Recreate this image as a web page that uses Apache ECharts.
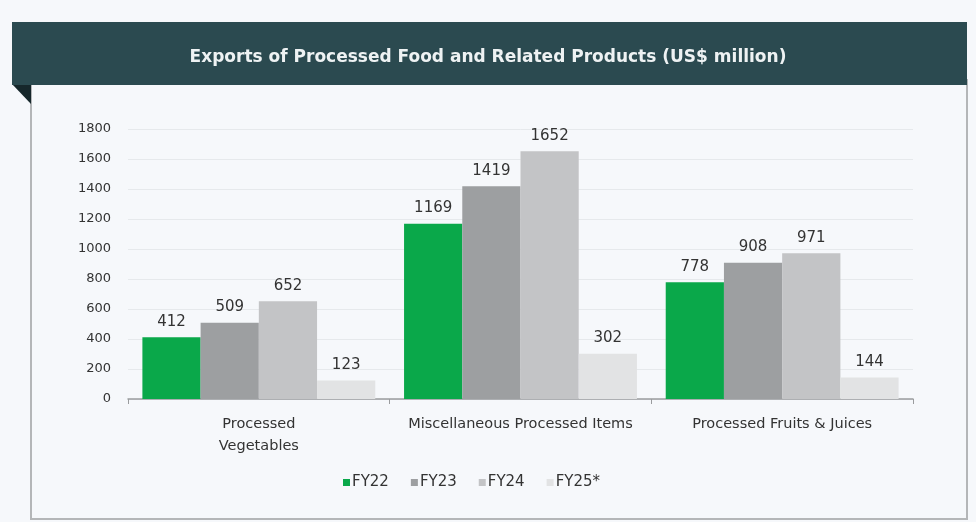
<!DOCTYPE html>
<html>
<head>
<meta charset="utf-8">
<script src="https://cdn.jsdelivr.net/npm/echarts@6/dist/echarts.min.js"></script>
<style>
  html, body { margin: 0; padding: 0; background: #f6f8fb; }
  #main { width: 976px; height: 522px; }
</style>
</head>
<body>
<div id="main"></div>
<script>
var categories = ['Processed\nVegetables', 'Miscellaneous Processed Items', 'Processed Fruits & Juices'];
var seriesNames = ['FY22', 'FY23', 'FY24', 'FY25*'];
var fy22 = [412, 1169, 778];
var fy23 = [509, 1419, 908];
var fy24 = [652, 1652, 971];
var fy25 = [123, 302, 144];
var colors = ['#0aa84a', '#9d9fa1', '#c3c4c6', '#e2e3e4'];

var chart = echarts.init(document.getElementById('main'));
var fontName = 'DejaVu Sans';

function makeSeries(name, data, color) {
  return {
    name: name,
    type: 'bar',
    data: data,
    barGap: 0,
    barCategoryGap: '11%',
    itemStyle: { color: color },
    label: {
      show: true,
      position: 'top',
      distance: 8,
      color: '#333',
      fontFamily: fontName,
      fontSize: 15
    }
  };
}

var option = {
  backgroundColor: '#f6f8fb',
  animation: false,
  color: colors,
  graphic: [
    // card border
    { type: 'rect', shape: { x: 31, y: 80, width: 936, height: 439 },
      style: { fill: '#f6f8fb', stroke: '#b4b6b8', lineWidth: 2 }, z: -10 },
    // fold
    { type: 'polygon', shape: { points: [[12, 84], [31, 84], [31, 104]] },
      style: { fill: '#16272b' }, z: -5 },
    // header band
    { type: 'rect', shape: { x: 12, y: 22, width: 955, height: 63 },
      style: { fill: '#2b4a50' }, z: -5 }
  ],
  title: {
    text: 'Exports of Processed Food and Related Products (US$ million)',
    left: 'center',
    top: 44,
    textStyle: {
      color: '#eef2f3',
      fontFamily: fontName,
      fontSize: 17,
      fontWeight: 'bold'
    }
  },
  legend: {
    data: seriesNames,
    bottom: 27,
    left: 338,
    itemWidth: 7,
    itemHeight: 7,
    itemGap: 22,
    icon: 'rect',
    textStyle: { color: '#333', fontFamily: fontName, fontSize: 15, padding: [0, 0, 0, -3] }
  },
  grid: { left: 128, right: 63, top: 129, bottom: 123, containLabel: false },
  xAxis: {
    type: 'category',
    data: categories,
    axisLine: { lineStyle: { color: '#9a9c9e', width: 1.5 } },
    axisTick: { show: true, length: 5, lineStyle: { color: '#9a9c9e' } },
    axisLabel: {
      interval: 0,
      hideOverlap: false,
      color: '#333',
      fontFamily: fontName,
      fontSize: 14.5,
      margin: 14,
      lineHeight: 22
    }
  },
  yAxis: {
    type: 'value',
    min: 0,
    max: 1800,
    interval: 200,
    axisLine: { show: false },
    axisTick: { show: false },
    axisLabel: {
      color: '#333',
      fontFamily: fontName,
      fontSize: 13,
      margin: 17,
      formatter: function (v) { return String(v); }
    },
    splitLine: { lineStyle: { color: '#e6e9ec' } }
  },
  series: [
    makeSeries(seriesNames[0], fy22, colors[0]),
    makeSeries(seriesNames[1], fy23, colors[1]),
    makeSeries(seriesNames[2], fy24, colors[2]),
    makeSeries(seriesNames[3], fy25, colors[3])
  ]
};

chart.setOption(option);
</script>
</body>
</html>
